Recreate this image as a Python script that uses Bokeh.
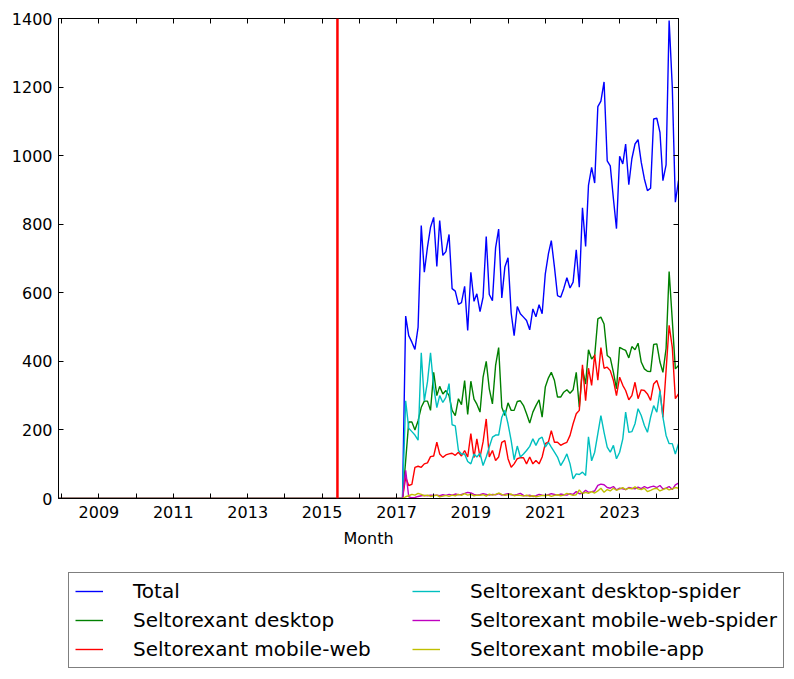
import pandas as pd
from bokeh.plotting import figure
from bokeh.models import (Range1d, DatetimeAxis, LinearAxis, FixedTicker,
                          DatetimeTickFormatter, Span, Legend, LegendItem)
from bokeh.embed import file_html
from bokeh.resources import INLINE

first_month = "2007-12-01"
last_month = "2024-08-01"
marker_month = "2015-06-01"

# monthly values from 2017-04 to 2024-08 (earlier months are zero)
total = [532, 475, 456, 435, 500, 796, 660, 733, 791,
         820, 677, 811, 709, 720, 770, 612, 605, 566, 571, 619, 490,
         660, 575, 597, 545, 587, 764, 595, 577, 731, 786, 585, 675,
         702, 541, 475, 560, 539, 529, 519, 492, 553, 530, 565, 539,
         655, 714, 752, 675, 592, 587, 612, 644, 614, 631, 725, 616,
         848, 735, 913, 966, 920, 1143, 1159, 1215, 985, 970, 874, 787,
         998, 976, 1034, 915, 991, 1034, 1047, 981, 932, 898, 905, 1107,
         1109, 1068, 927, 973, 1394, 1200, 864, 927]
desktop = [110, 223, 223, 200, 227, 266, 284, 284, 257,
           368, 300, 327, 305, 315, 300, 257, 242, 291, 274, 344, 245,
           342, 290, 275, 252, 354, 400, 320, 276, 388, 440, 266, 242,
           279, 257, 257, 283, 285, 271, 247, 220, 252, 271, 288, 237,
           325, 352, 368, 344, 296, 296, 310, 317, 307, 317, 368, 266,
           378, 334, 434, 407, 417, 524, 529, 509, 417, 410, 368, 320,
           441, 436, 432, 410, 443, 434, 453, 398, 378, 371, 370, 449,
           451, 398, 368, 437, 662, 520, 378, 388]
mobile_web = [62, 38, 41, 91, 94, 91, 101, 104, 122,
              124, 164, 130, 120, 127, 130, 132, 126, 135, 124, 140, 121,
              189, 119, 174, 121, 165, 232, 121, 140, 111, 121, 164, 169,
              116, 91, 101, 116, 119, 119, 101, 121, 101, 111, 101, 121,
              160, 165, 198, 164, 164, 155, 160, 164, 184, 218, 247, 257,
              390, 285, 380, 330, 420, 345, 440, 380, 383, 373, 344, 300,
              354, 330, 315, 288, 300, 339, 291, 317, 315, 305, 286, 334,
              344, 315, 237, 373, 505, 441, 291, 305]
desktop_spider = [285, 205, 195, 185, 170, 425, 285, 340, 425,
                  325, 265, 300, 280, 295, 335, 215, 212, 140, 130, 130, 108,
                  101, 130, 121, 132, 96, 121, 150, 179, 185, 185, 237, 257,
                  218, 169, 113, 153, 121, 130, 140, 152, 174, 155, 174, 179,
                  150, 164, 150, 135, 121, 96, 111, 130, 101, 57, 72, 70,
                  77, 67, 180, 110, 135, 189, 242, 193, 150, 135, 155, 116,
                  135, 174, 252, 193, 195, 218, 262, 242, 213, 193, 237, 271,
                  252, 313, 237, 184, 160, 160, 130, 160]
mobile_web_spider = [82, 5, 2, 3, 6, 8, 9, 8, 10,
                     9, 10, 8, 11, 9, 12, 10, 13, 11, 12, 15, 18,
                     16, 12, 10, 11, 14, 12, 10, 12, 11, 14, 10, 12,
                     14, 11, 10, 12, 15, 9, 8, 10, 6, 8, 12, 10,
                     9, 11, 14, 12, 10, 13, 11, 10, 14, 12, 20, 14,
                     15, 24, 18, 20, 22, 38, 42, 40, 32, 30, 35, 25,
                     30, 28, 26, 32, 30, 28, 33, 29, 35, 30, 34, 36,
                     32, 38, 28, 30, 35, 26, 40, 45]
mobile_app = [5, 8, 12, 10, 15, 12, 8, 10, 6,
              8, 10, 5, 7, 9, 6, 10, 8, 12, 9, 14, 10,
              12, 8, 10, 9, 11, 7, 13, 10, 12, 16, 12, 9,
              11, 13, 8, 10, 9, 7, 10, 6, 8, 5, 7, 9,
              8, 10, 6, 9, 11, 8, 10, 15, 12, 9, 11, 25,
              14, 18, 15, 20, 16, 22, 30, 18, 26, 22, 30, 24,
              28, 32, 26, 30, 28, 34, 28, 26, 30, 20, 24, 28,
              30, 22, 26, 30, 25, 28, 32, 30]

series_names = ["Total", "Seltorexant desktop", "Seltorexant mobile-web",
                "Seltorexant desktop-spider", "Seltorexant mobile-web-spider",
                "Seltorexant mobile-app"]
series_values = [total, desktop, mobile_web, desktop_spider,
                 mobile_web_spider, mobile_app]
series_colors = ["#0000ff", "#008000", "#ff0000", "#00bfbf", "#bf00bf", "#bfbf00"]

label_years = [2009, 2011, 2013, 2015, 2017, 2019, 2021, 2023]
minor_years = [2008, 2010, 2012, 2014, 2016, 2018, 2020, 2022, 2024]
y_ticks = [0, 200, 400, 600, 800, 1000, 1200, 1400]

months = pd.date_range(first_month, last_month, freq="MS")


def full(vals):
    return [0] * (len(months) - len(vals)) + list(vals)


def ms(d):
    return pd.Timestamp(d).value / 1e6


FONT = "DejaVu Sans"

p = figure(width=794, height=560, x_axis_type="datetime",
           x_range=Range1d(ms(first_month), ms(last_month)),
           y_range=Range1d(0, 1400),
           output_backend="svg", toolbar_location=None,
           min_border_left=58, min_border_right=116,
           min_border_top=18, min_border_bottom=62)
p.xgrid.visible = False
p.ygrid.visible = False
p.outline_line_color = "black"
p.outline_line_width = 1
p.background_fill_color = "white"
p.border_fill_color = "white"

xticker = FixedTicker(ticks=[ms(f"{y}-01-01") for y in label_years],
                      minor_ticks=[ms(f"{y}-01-01") for y in minor_years])
yticker = FixedTicker(ticks=y_ticks)
fmt = DatetimeTickFormatter(years="%Y", months="%Y", days="%Y", hours="%Y",
                            minutes="%Y", seconds="%Y", milliseconds="%Y")


def style_axis(ax, show_labels=True):
    ax.axis_line_color = "black"
    ax.major_tick_in = 5
    ax.major_tick_out = 0
    ax.minor_tick_in = 5
    ax.minor_tick_out = 0
    ax.major_tick_line_color = "black"
    ax.minor_tick_line_color = "black"
    ax.major_label_text_font = FONT
    ax.major_label_text_color = "black"
    ax.axis_label_text_font = FONT
    ax.axis_label_text_font_style = "normal"
    ax.axis_label_text_font_size = "16px"
    ax.axis_label_text_color = "black"
    if show_labels:
        ax.major_label_text_font_size = "16px"
    else:
        ax.major_label_text_font_size = "0px"
        ax.major_label_standoff = 0


xa = p.xaxis[0]
xa.ticker = xticker
xa.formatter = fmt
xa.axis_label = "Month"
xa.major_label_standoff = 7
xa.axis_label_standoff = 8
style_axis(xa)

ya = p.yaxis[0]
ya.ticker = yticker
ya.major_label_standoff = 6
style_axis(ya)
ya.minor_tick_in = 0

top = DatetimeAxis(ticker=xticker, formatter=fmt)
style_axis(top, False)
p.add_layout(top, "above")
right = LinearAxis(ticker=yticker)
style_axis(right, False)
right.minor_tick_in = 0
p.add_layout(right, "right")

p.add_layout(Span(location=ms(marker_month), dimension="height",
                  line_color="red", line_width=2.5))

for name, vals, col in zip(series_names, series_values, series_colors):
    p.line(x=months, y=full(vals), line_color=col, line_width=1.4)

# legend strip below the chart: same series drawn again, scrolled out of view,
# only so that the legend has glyphs to show
lg = figure(width=794, height=119, x_axis_type="datetime",
            x_range=Range1d(ms(first_month), ms(last_month)),
            y_range=Range1d(-20000, -10000),
            output_backend="svg", toolbar_location=None,
            x_axis_location=None, y_axis_location=None, min_border=0)
lg.xgrid.visible = False
lg.ygrid.visible = False
lg.outline_line_color = None
lg.border_fill_color = "white"
lg.background_fill_color = "white"

items = []
for name, vals, col in zip(series_names, series_values, series_colors):
    r = lg.line(x=months, y=full(vals), line_color=col, line_width=1.4)
    items.append(LegendItem(label=name, renderers=[r]))

legend = Legend(items=items, location=(68, 11), ncols=2,
                label_text_font=FONT, label_text_font_size="20px",
                label_text_color="black",
                glyph_width=28, glyph_height=12, label_height=24,
                label_width=274, label_standoff=30, spacing=5, padding=6,
                margin=0,
                border_line_color="black", border_line_width=1,
                background_fill_color="white", background_fill_alpha=1)
lg.add_layout(legend, "center")

open("out.html", "w").write(file_html([p, lg], INLINE))
